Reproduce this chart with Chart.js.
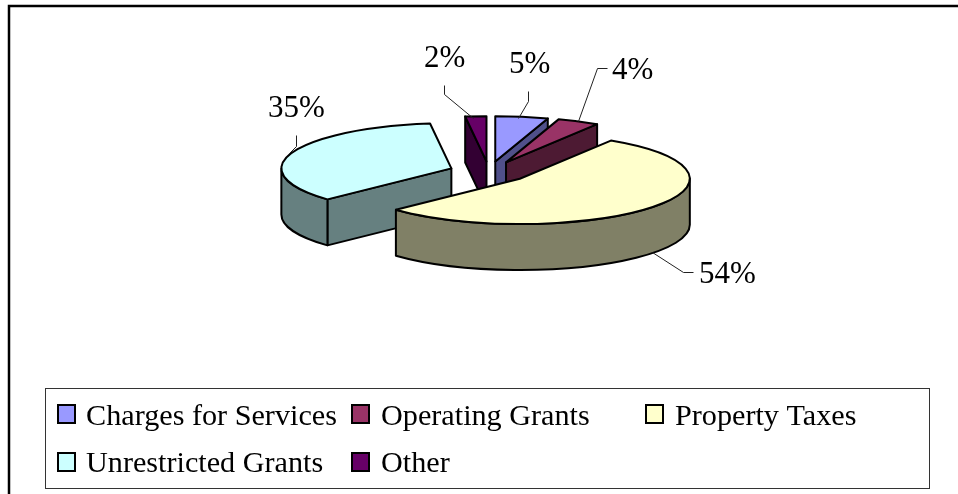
<!DOCTYPE html>
<html>
<head>
<meta charset="utf-8">
<style>html,body{margin:0;padding:0;background:#fff;overflow:hidden}canvas{display:block}</style>
<script src="https://cdn.jsdelivr.net/npm/chart.js@4"></script>
</head>
<body>
<div style="width:958px;height:494px"><canvas id="c" width="958" height="494"></canvas></div>
<script>
const categories = ['Charges for Services','Operating Grants','Property Taxes','Unrestricted Grants','Other'];
const shares = [5, 4, 54, 35, 2];
const topColors = ['#9999FF','#993366','#FFFFCC','#CCFFFF','#660066'];
const wallColors = ['#50508A','#4D1A33','#808066','#668080','#330033'];

// presentation settings
const LABEL_FONT = '31px "Liberation Serif"';
const LEGEND_FONT = '30.2px "Liberation Serif"';
const SQUASH = 0.266, DEPTH = 46, EXPLODE = 40, RADIUS = 170;
const labelAnchors = [[509,73],[612,79],[699,283],[268,117],[424,67]];
const leaders = [
  [[528,91],[528,101],[518,118]],
  [[607,68],[597,68],[578,121]],
  [[693,272],[683,272],[652,252]],
  [[296,135],[296,146],[289,153]],
  [[444,85],[444,94],[473,118]]
];
const legendCells = [[58,405,86,425],[352,405,381,425],[646,405,675,425],[58,453,86,472],[352,453,381,472]];

const pie3d = {
  id:'pie3d',
  beforeDatasetsDraw(chart){
    const ctx = chart.ctx;
    const arcs = chart.getDatasetMeta(0).data.map((a,i)=>{
      const p = a.getProps(['x','y','startAngle','endAngle','outerRadius'],true);
      const mid = (p.startAngle+p.endAngle)/2, off = a.options.offset;
      return {i, s:p.startAngle, e:p.endAngle, r:p.outerRadius,
        cx:p.x+Math.cos(mid)*off, cy:p.y+Math.sin(mid)*off*SQUASH};
    }).sort((a,b)=>a.cy-b.cy);
    ctx.save();
    ctx.lineWidth = 2; ctx.lineJoin = 'round'; ctx.strokeStyle = '#000';
    for(const a of arcs){
      const ry = a.r*SQUASH;
      const edge = t=>[a.cx+a.r*Math.cos(t), a.cy+ry*Math.sin(t)];
      ctx.fillStyle = wallColors[a.i];
      const quad = t=>{
        const q = edge(t);
        ctx.beginPath(); ctx.moveTo(a.cx,a.cy); ctx.lineTo(q[0],q[1]);
        ctx.lineTo(q[0],q[1]+DEPTH); ctx.lineTo(a.cx,a.cy+DEPTH); ctx.closePath();
        ctx.fill(); ctx.stroke();
      };
      if(Math.cos(a.s)<-1e-6) quad(a.s);
      if(Math.cos(a.e)>1e-6) quad(a.e);
      const w0 = Math.max(a.s,0), w1 = Math.min(a.e,Math.PI);
      if(w1>w0){
        ctx.beginPath();
        ctx.ellipse(a.cx,a.cy,a.r,ry,0,w0,w1);
        ctx.ellipse(a.cx,a.cy+DEPTH,a.r,ry,0,w1,w0,true);
        ctx.closePath(); ctx.fill(); ctx.stroke();
      }
      ctx.fillStyle = topColors[a.i];
      ctx.beginPath(); ctx.moveTo(a.cx,a.cy);
      ctx.ellipse(a.cx,a.cy,a.r,ry,0,a.s,a.e);
      ctx.closePath(); ctx.fill(); ctx.stroke();
    }
    ctx.restore();
    return false;
  },
  afterDraw(chart){
    const ctx = chart.ctx;
    ctx.save();
    // outer frame
    ctx.strokeStyle='#000'; ctx.lineWidth=2.5;
    ctx.beginPath(); ctx.moveTo(9,494); ctx.lineTo(9,6); ctx.lineTo(958,6); ctx.stroke();
    // leader lines
    ctx.lineWidth=1; ctx.strokeStyle='#222';
    leaders.forEach(l=>{
      ctx.beginPath(); l.forEach((p,i)=>i?ctx.lineTo(p[0]+.5,p[1]+.5):ctx.moveTo(p[0]+.5,p[1]+.5)); ctx.stroke();
    });
    // data labels
    ctx.font=LABEL_FONT; ctx.fillStyle='#000'; ctx.textBaseline='alphabetic'; ctx.textAlign='left';
    shares.forEach((v,i)=>ctx.fillText(v+'%',labelAnchors[i][0],labelAnchors[i][1]));
    // legend
    ctx.font=LEGEND_FONT;
    ctx.strokeStyle='#333'; ctx.lineWidth=1;
    ctx.strokeRect(45.5,388.5,884,100);
    chart.data.labels.forEach((t,i)=>{
      const c=legendCells[i];
      ctx.fillStyle=topColors[i]; ctx.strokeStyle='#000'; ctx.lineWidth=2;
      ctx.fillRect(c[0],c[1],17,18); ctx.strokeRect(c[0],c[1],17,18);
      ctx.fillStyle='#000'; ctx.fillText(t,c[2],c[3]);
    });
    ctx.restore();
  }
};

new Chart(document.getElementById('c'),{
  type:'pie',
  data:{labels:categories,datasets:[{data:shares,backgroundColor:topColors,borderWidth:0,offset:EXPLODE,hoverOffset:0}]},
  options:{
    responsive:false,animation:false,radius:RADIUS,
    layout:{padding:{left:20,right:0,top:0,bottom:150}},
    events:[],
    plugins:{legend:{display:false},tooltip:{enabled:false},title:{display:false}}
  },
  plugins:[pie3d]
});
</script>
</body>
</html>
